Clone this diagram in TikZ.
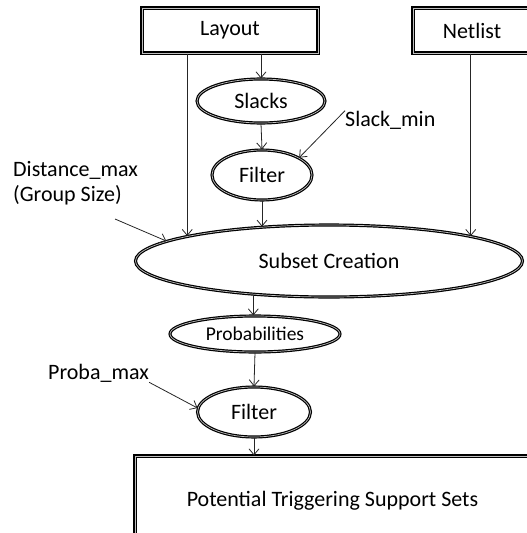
\documentclass[tikz,border=0pt]{standalone}
\usepackage{fontspec}
\setmainfont{Carlito}
\usetikzlibrary{shapes.geometric,arrows.meta}
\begin{document}
\begin{tikzpicture}[x=1pt,y=-1pt,
  box/.style={draw=black, line width=1.2pt, double=white!75!black, double distance=0.7pt, rectangle, inner sep=0pt, font=\fontsize{22}{26}\selectfont},
  oval/.style={draw=black, line width=1.2pt, double=white!75!black, double distance=0.7pt, ellipse, inner sep=0pt, font=\fontsize{22}{26}\selectfont},
  lbl/.style={inner sep=0pt, font=\fontsize{22}{25}\selectfont, align=left},
  arr/.style={draw=black!85, line width=0.8pt, -{Straight Barb[length=6pt,width=10pt]}},
  ln/.style={draw=black!85, line width=0.8pt}
]
\useasboundingbox (0,0) rectangle (527,533);
% boxes
\node[box, minimum width=176pt, minimum height=45pt] (layout) at (230,30.5) {Layout};
\node[box, minimum width=118pt, minimum height=45pt] (netlist) at (472,30.5) {Netlist};
\node[box, minimum width=395pt, minimum height=90pt] (pot) at (332.5,501) {Potential Triggering Support Sets};
% ellipses
\node[oval, minimum width=128pt, minimum height=44pt] (slacks) at (261,101) {Slacks};
\node[oval, minimum width=100pt, minimum height=50pt] (filt1) at (262,175) {Filter};
\node[oval, minimum width=387pt, minimum height=72pt] (subset) at (329,261) {Subset Creation};
\node[oval, minimum width=170pt, minimum height=36pt, font=\fontsize{19.5}{22}\selectfont] (prob) at (255,334) {Probabilities};
\node[oval, minimum width=113pt, minimum height=50pt] (filt2) at (254,412) {Filter};
% labels
\node[lbl, anchor=west] (slackmin) at (345,120) {Slack\_min};
\node[lbl, anchor=west] (distmax) at (13,183) {Distance\_max\\(Group Size)};
\node[lbl, anchor=west] (probamax) at (48,373) {Proba\_max};
\coordinate (dstart) at (115,219);
% connectors
\draw[arr] (layout.south -| slacks.north) -- (slacks.north);
\draw[arr] (slacks.south) -- (filt1.north);
\draw[arr] (filt1.south) -- (filt1.south |- subset.153);
\draw[arr] (layout.south -| subset.170.5) -- (subset.170.5);
\draw[arr] (netlist.south -| subset.10) -- (subset.10);
\draw[arr] (subset.204) -- (subset.204 |- prob.north);
\draw[arr] (prob.south) -- (filt2.north);
\draw[arr] (filt2.south) -- (filt2.south |- pot.north);
\draw[arr] (slackmin.north west) -- (filt1.25);
\draw[arr] (dstart) -- (subset.173);
\draw[arr] (probamax.south east) -- (filt2.176);
\end{tikzpicture}
\end{document}
